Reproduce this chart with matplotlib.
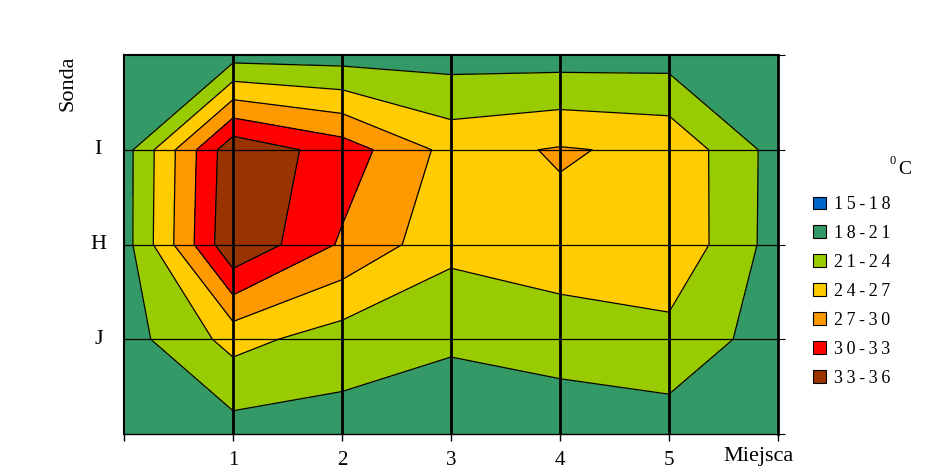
import numpy as np
import matplotlib
matplotlib.use("Agg")
import matplotlib.pyplot as plt
from matplotlib.patches import Patch

plt.rcParams["font.family"] = ["Liberation Serif", "DejaVu Serif"]

# grid of measurement points: columns = miejsca 0..6, rows = top, I, H, J, bottom
miejsca = [0, 1, 2, 3, 4, 5, 6]
sonda = [0, 1, 2, 3, 4]
x_labels = ["", "1", "2", "3", "4", "5", ""]
y_labels = ["I", "H", "J"]

row_top = [19.5, 19.7, 19.6, 19.7, 19.6, 19.7, 19.5]
row_I = [19.7, 35.2, 31.6, 26.0, 27.25, 26.4, 19.8]
row_H = [19.7, 35.7, 29.6, 24.9, 26.2, 26.5, 19.7]
row_J = [19.7, 25.0, 22.6, 21.3, 22.0, 23.0, 19.6]
row_bottom = [19.5, 19.7, 19.7, 19.7, 19.6, 19.55, 19.5]

levels = [15, 18, 21, 24, 27, 30, 33, 36]
band_labels = ["15-18", "18-21", "21-24", "24-27", "27-30", "30-33", "33-36"]
band_colors = ["#0066CC", "#339966", "#99CC00", "#FFCC00", "#FF9900", "#FF0000", "#993300"]

Z = np.array([row_top, row_I, row_H, row_J, row_bottom])
X, Y = np.meshgrid(miejsca, sonda)

fig = plt.figure(figsize=(9.4, 4.72), dpi=100)
ax = fig.add_axes([124 / 940, 1 - 434 / 472, (778 - 124) / 940, (434 - 55) / 472])

ax.contourf(X, Y, Z, levels=levels, colors=band_colors)
ax.contour(X, Y, Z, levels=levels[1:-1], colors="black", linewidths=0.9)

ax.vlines(miejsca[1:-1], 0, 4, color="black", linewidth=2)
ax.hlines([1, 2, 3], 0, 6, color="black", linewidth=0.9)

ax.set_xlim(0, 6)
ax.set_ylim(4, 0)

ax.set_xticks(miejsca)
ax.set_xticklabels(x_labels, fontsize=15)
ax.tick_params(axis="x", direction="out", length=5, width=1, pad=7)
ax.yaxis.tick_right()
ax.set_yticks(sonda)
ax.set_yticklabels([])
ax.tick_params(axis="y", direction="out", length=5, width=0.8)

for s in ["left", "top"]:
    ax.spines[s].set_linewidth(1.5)
ax.spines["right"].set_linewidth(2)
ax.spines["bottom"].set_linewidth(1)

for yy, lab in zip([1, 2, 3], y_labels):
    ax.text(-0.235, yy, lab, fontsize=16, ha="center", va="center")

fig.text(68 / 940, 1 - 83 / 472, "Sonda", rotation=90, fontsize=16,
         ha="center", va="center")
fig.text(758 / 940, 1 - 457 / 472, "Miejsca", fontsize=16, ha="center", va="center")

# legend
fig.text(893 / 940, 1 - 161 / 472, "0", fontsize=9, ha="center", va="center")
fig.text(905 / 940, 1 - 169 / 472, "C", fontsize=14, ha="center", va="center")
handles = [Patch(facecolor=c, edgecolor="black", linewidth=0.8) for c in band_colors]
spaced = ["\u2009".join(lab) for lab in band_labels]
fig.legend(handles, spaced, loc="upper left",
           bbox_to_anchor=(806 / 940, 1 - 189 / 472), frameon=False,
           fontsize=13, handlelength=0.7, handleheight=0.7,
           handletextpad=0.45, labelspacing=0.66, borderaxespad=0)

fig.savefig("out.png", dpi=100)
